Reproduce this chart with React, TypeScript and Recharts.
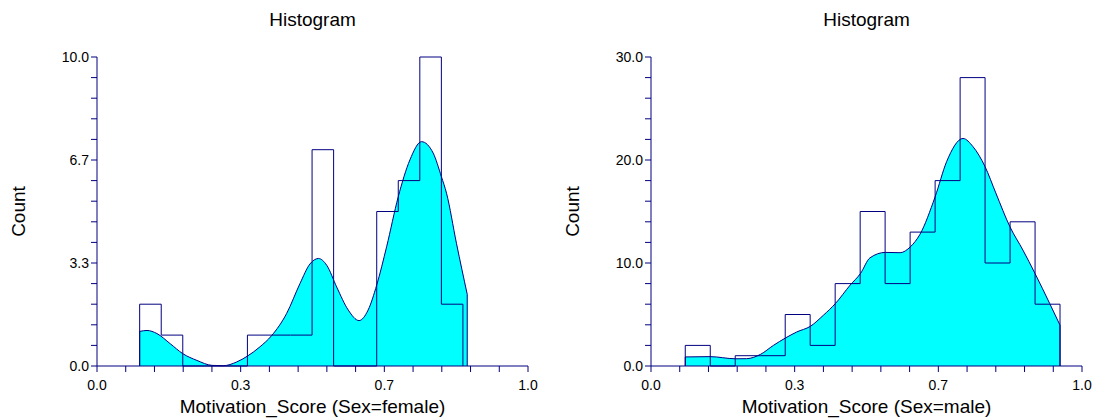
import React from "react";
import {
  ComposedChart,
  Area,
  Line,
  XAxis,
  YAxis,
  ReferenceLine,
} from "recharts";

// tick labels (major ticks every 5th of 15 minor divisions)
const xTickLabels = ["0.0", "0.3", "0.7", "1.0"];
const femaleYTickLabels = ["0.0", "3.3", "6.7", "10.0"];
const maleYTickLabels = ["0.0", "10.0", "20.0", "30.0"];

// female histogram
const femaleBinEdges = [
  0.099, 0.149, 0.199, 0.249, 0.299, 0.349, 0.399, 0.449, 0.499, 0.549, 0.599,
  0.649, 0.699, 0.749, 0.799, 0.849,
];
const femaleCounts = [2, 1, 0, 0, 0, 1, 1, 1, 7, 0, 0, 5, 6, 10, 2];
const femaleDensityX = [
  0.099, 0.116, 0.139, 0.17, 0.199, 0.232, 0.267, 0.293, 0.324, 0.349, 0.378,
  0.405, 0.44, 0.471, 0.494, 0.514, 0.533, 0.556, 0.583, 0.608, 0.629, 0.649,
  0.672, 0.699, 0.726, 0.753, 0.78, 0.799, 0.811, 0.834, 0.859,
];
const femaleDensityY = [
  1.12, 1.15, 1.05, 0.72, 0.4, 0.18, 0.02, 0.01, 0.13, 0.32, 0.62, 0.98, 1.7,
  2.67, 3.3, 3.48, 3.26, 2.56, 1.81, 1.47, 1.81, 2.62, 3.86, 5.48, 6.67, 7.26,
  6.89, 6.13, 5.59, 3.97, 2.32,
];

// male histogram
const maleBinEdges = [
  0.0795, 0.1375, 0.1954, 0.2534, 0.3114, 0.3693, 0.4273, 0.4853, 0.5432,
  0.6012, 0.6592, 0.7172, 0.7751, 0.8331, 0.8911, 0.949,
];
const maleCounts = [2, 0, 1, 1, 5, 2, 8, 15, 8, 13, 18, 28, 10, 14, 6];
const maleDensityX = [
  0.0795, 0.137, 0.196, 0.222, 0.254, 0.284, 0.312, 0.338, 0.37, 0.4, 0.428,
  0.462, 0.486, 0.508, 0.544, 0.578, 0.602, 0.624, 0.659, 0.686, 0.724, 0.747,
  0.775, 0.8, 0.833, 0.863, 0.891, 0.925, 0.949,
];
const maleDensityY = [
  0.88, 0.91, 0.7, 0.71, 1.13, 2.0, 2.72, 3.3, 3.86, 4.93, 6.07, 7.85, 8.98,
  10.5, 11.03, 11.0, 11.58, 12.78, 16.4, 19.85, 22.09, 21.3, 19.36, 16.8, 13.5,
  11.25, 8.98, 6.07, 3.96,
];

const NAVY = "#000080";
const W = 542;
const H = 419;

const Panel = ({ left, xLabel, yMax, yTickLabels, edges, counts, densX, densY }) => {
  const curve = densX.map((x, i) => ({ x, y: densY[i] }));
  // stair-step outline of the histogram
  const steps = [
    { x: edges[0], c: 0 },
    ...counts.map((c, i) => ({ x: edges[i], c })),
    { x: edges[edges.length - 1], c: 0 },
  ];
  const first = curve[0];
  const last = curve[curve.length - 1];
  const xTicks = Array.from({ length: 16 }, (_, i) => i / 15);
  const yTicks = Array.from({ length: 16 }, (_, i) => (i * yMax) / 15);

  const yLabel = (props) => {
    const vb = props.viewBox;
    const cx = vb.x - 18.7;
    const cy = vb.y + vb.height / 2;
    return (
      <text
        x={cx}
        y={cy}
        transform={`rotate(-90, ${cx}, ${cy})`}
        textAnchor="middle"
        dominantBaseline="central"
        fontSize={19}
        fill="#000"
      >
        Count
      </text>
    );
  };

  return (
    <div style={{ position: "absolute", left, top: 0, width: W, height: H }}>
      <div
        style={{
          position: "absolute",
          left: 97,
          top: 10,
          width: 431,
          textAlign: "center",
          fontSize: 19,
          lineHeight: "19px",
          color: "#000",
        }}
      >
        Histogram
      </div>
      <ComposedChart
        width={W}
        height={H}
        margin={{ top: 57, right: 14, bottom: 0, left: 37 }}
      >
        <XAxis
          type="number"
          dataKey="x"
          domain={[0, 1]}
          ticks={xTicks}
          interval={0}
          tickFormatter={(v, i) => (i % 5 === 0 ? xTickLabels[i / 5] : "")}
          stroke={NAVY}
          tickSize={6}
          tickMargin={8}
          tick={{ fill: "#000", fontSize: 14 }}
          height={53}
          label={{
            value: xLabel,
            position: "insideBottom",
            offset: 6,
            fontSize: 19,
            fill: "#000",
          }}
        />
        <YAxis
          type="number"
          domain={[0, yMax]}
          ticks={yTicks}
          interval={0}
          tickFormatter={(v, i) => (i % 5 === 0 ? yTickLabels[i / 5] : "")}
          stroke={NAVY}
          tickSize={6}
          tickMargin={2}
          tick={{ fill: "#000", fontSize: 14 }}
          width={60}
          label={yLabel}
        />
        <Area
          data={curve}
          type="monotone"
          dataKey="y"
          stroke={NAVY}
          strokeWidth={1}
          fill="#00FFFF"
          fillOpacity={1}
          isAnimationActive={false}
        />
        <ReferenceLine
          segment={[
            { x: first.x, y: 0 },
            { x: first.x, y: first.y },
          ]}
          stroke={NAVY}
        />
        <ReferenceLine
          segment={[
            { x: last.x, y: 0 },
            { x: last.x, y: last.y },
          ]}
          stroke={NAVY}
        />
        <Line
          data={steps}
          type="stepAfter"
          dataKey="c"
          stroke={NAVY}
          strokeWidth={1}
          dot={false}
          activeDot={false}
          isAnimationActive={false}
        />
      </ComposedChart>
    </div>
  );
};

export default function App() {
  return (
    <div
      style={{
        position: "absolute",
        left: 0,
        top: 0,
        width: 1096,
        height: 419,
        background: "#fff",
        fontFamily: '"Liberation Sans", Arial, sans-serif',
      }}
    >
      <Panel
        left={0}
        xLabel="Motivation_Score (Sex=female)"
        yMax={10}
        yTickLabels={femaleYTickLabels}
        edges={femaleBinEdges}
        counts={femaleCounts}
        densX={femaleDensityX}
        densY={femaleDensityY}
      />
      <Panel
        left={554}
        xLabel="Motivation_Score (Sex=male)"
        yMax={30}
        yTickLabels={maleYTickLabels}
        edges={maleBinEdges}
        counts={maleCounts}
        densX={maleDensityX}
        densY={maleDensityY}
      />
    </div>
  );
}
